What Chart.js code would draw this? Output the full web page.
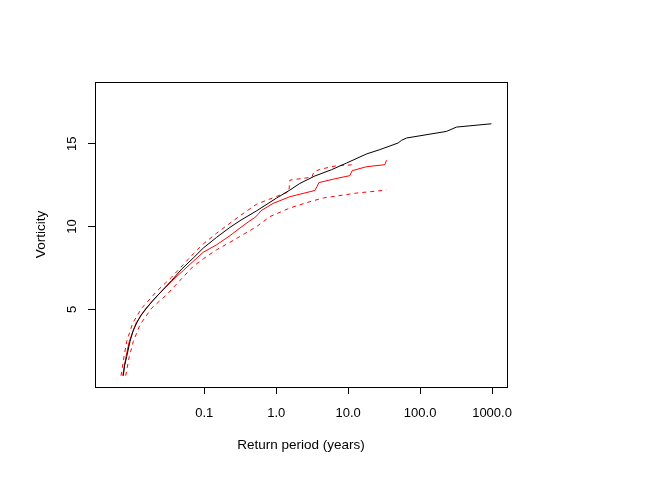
<!DOCTYPE html>
<html>
<head>
<meta charset="utf-8">
<script src="https://cdn.jsdelivr.net/npm/chart.js@4.4.1/dist/chart.umd.min.js"></script>
<style>
  html, body { margin: 0; padding: 0; background: #fff; }
  #wrap { width: 654px; height: 491px; }
</style>
</head>
<body>
<div id="wrap"><canvas id="chart" width="654" height="491"></canvas></div>
<script>
/* ========= Data ========= */
// empirical return levels (black)
const obsPeriod = [0.0075, 0.0078, 0.00836, 0.00929, 0.01023, 0.01151, 0.01321, 0.01585, 0.01939, 0.02427,
                   0.03524, 0.04898, 0.07031, 0.09683, 0.1486, 0.2275, 0.3131, 0.5346, 1.013, 1.549,
                   2.133, 3.449, 5.875, 9.5, 18.02, 27.57, 49.43, 55.18, 64.75, 232.6, 320.4, 981];
const obsValue  = [1.0, 1.6, 2.16, 3.07, 3.7, 4.18, 4.65, 5.08, 5.55, 6.0,
                   6.75, 7.45, 8.1, 8.7, 9.35, 9.95, 10.35, 10.95, 11.72, 12.2,
                   12.6, 13.05, 13.43, 13.83, 14.38, 14.64, 15.04, 15.2, 15.34, 15.74, 16.0, 16.2];

// fitted return levels (red solid)
const fitPeriod = [0.00736, 0.00818, 0.00908, 0.01126, 0.0155, 0.02427, 0.03557, 0.05107, 0.07031, 0.09683,
                   0.1486, 0.2275, 0.3131, 0.4315, 0.5061, 0.5568, 0.613, 0.9085, 1.549, 2.937,
                   3.449, 3.674, 3.918, 6.531, 10.56, 11.37, 18.02, 32.34, 34.12];
const fitValue  = [1.0, 2.16, 3.07, 4.18, 5.08, 5.99, 6.72, 7.35, 7.9, 8.45,
                   8.9, 9.45, 9.91, 10.35, 10.55, 10.72, 10.95, 11.4, 11.8, 12.1,
                   12.18, 12.4, 12.65, 12.88, 13.07, 13.37, 13.61, 13.73, 14.0];

// upper confidence band (red dashed)
const upperPeriod = [0.00697, 0.00767, 0.00836, 0.01014, 0.01352, 0.02183, 0.03524, 0.07031, 0.09683, 0.1486,
                     0.2275, 0.3131, 0.5346, 1.013, 1.5, 1.549, 3.133, 3.341, 4.046, 6.9, 11.14, 11.37];
const upperValue  = [1.0, 2.16, 3.07, 4.18, 5.08, 6.09, 6.95, 8.35, 8.95, 9.6,
                     10.2, 10.65, 11.35, 11.82, 12.1, 12.8, 12.98, 13.3, 13.45, 13.67, 13.72, 13.9];

// lower confidence band (red dashed)
const lowerPeriod = [0.00809, 0.00908, 0.01033, 0.0128, 0.0186, 0.03006, 0.04597, 0.07031, 0.09683, 0.1486,
                     0.2275, 0.3131, 0.5346, 0.8175, 1.549, 2.937, 4.5, 13.08, 34.12];
const lowerValue  = [1.0, 2.16, 3.07, 4.08, 5.08, 5.89, 6.75, 7.6, 8.05, 8.6,
                     9.05, 9.4, 10.0, 10.6, 11.12, 11.5, 11.72, 12.02, 12.2];

const xTickValues = [0.1, 1, 10, 100, 1000];
const xTickLabels = ['0.1', '1.0', '10.0', '100.0', '1000.0'];
const yTickValues = [5, 10, 15];
const yTickLabels = ['5', '10', '15'];

/* ========= Helpers ========= */
const FONT = "'Liberation Sans', Arial, Helvetica, sans-serif";
const toPoints = (xs, ys) => xs.map((x, i) => ({ x, y: ys[i] }));

function lineSet(label, xs, ys, color, dash) {
  return {
    label,
    data: toPoints(xs, ys),
    borderColor: color,
    borderWidth: 1,
    borderDash: dash || [],
    pointRadius: 0,
    tension: 0,
    fill: false
  };
}

// frame around the plot region + rotated y tick labels (R style)
const framePlugin = {
  id: 'frame',
  afterDraw(chart) {
    const { ctx, chartArea: a, scales } = chart;
    ctx.save();
    ctx.strokeStyle = '#000';
    ctx.lineWidth = 1;
    ctx.strokeRect(Math.round(a.left) + 0.5, Math.round(a.top) + 0.5,
                   Math.round(a.right - a.left), Math.round(a.bottom - a.top));

    ctx.fillStyle = '#000';
    ctx.font = '13px ' + FONT;
    ctx.textAlign = 'center';
    ctx.textBaseline = 'middle';
    yTickValues.forEach((v, i) => {
      const py = scales.y.getPixelForValue(v);
      ctx.save();
      ctx.translate(72, py);
      ctx.rotate(-Math.PI / 2);
      ctx.fillText(yTickLabels[i], 0, 0);
      ctx.restore();
    });
    ctx.restore();
  }
};

/* ========= Chart ========= */
new Chart(document.getElementById('chart'), {
  type: 'line',
  data: {
    datasets: [
      lineSet('observed', obsPeriod, obsValue, '#000000'),
      lineSet('fit', fitPeriod, fitValue, '#ff0000'),
      lineSet('upper', upperPeriod, upperValue, '#ff0000', [4, 4]),
      lineSet('lower', lowerPeriod, lowerValue, '#ff0000', [4, 4])
    ]
  },
  options: {
    responsive: false,
    animation: false,
    devicePixelRatio: 1,
    layout: { padding: { top: 82, right: 147, left: 0, bottom: 0 } },
    plugins: { legend: { display: false }, tooltip: { enabled: false } },
    scales: {
      x: {
        type: 'logarithmic',
        min: 0.00303,
        max: 1614,
        bounds: 'data',
        border: { display: false },
        grid: { drawOnChartArea: false, drawTicks: true, tickLength: 7, color: '#000', lineWidth: 1 },
        ticks: {
          autoSkip: false,
          maxRotation: 0,
          padding: 11.5,
          color: '#000',
          font: { family: FONT, size: 13 },
          callback: (v, i) => xTickLabels[i]
        },
        afterBuildTicks: s => { s.ticks = xTickValues.map(v => ({ value: v })); },
        afterFit: s => { s.height = 104; s.paddingLeft = 0; s.paddingRight = 0; },
        title: {
          display: true,
          text: 'Return period (years)',
          color: '#000',
          font: { family: FONT, size: 13.5 },
          padding: { top: 0, bottom: 37.9 }
        }
      },
      y: {
        type: 'linear',
        min: 0.32,
        max: 18.72,
        bounds: 'data',
        border: { display: false },
        grid: { drawOnChartArea: false, drawTicks: true, tickLength: 7, color: '#000', lineWidth: 1 },
        ticks: { display: false },
        afterBuildTicks: s => { s.ticks = yTickValues.map(v => ({ value: v })); },
        afterFit: s => { s.width = 95; s.paddingTop = 0; s.paddingBottom = 0; },
        title: {
          display: true,
          text: 'Vorticity',
          color: '#000',
          font: { family: FONT, size: 13.5 },
          padding: { top: 33.4, bottom: 0 }
        }
      }
    }
  },
  plugins: [framePlugin]
});
</script>
</body>
</html>
